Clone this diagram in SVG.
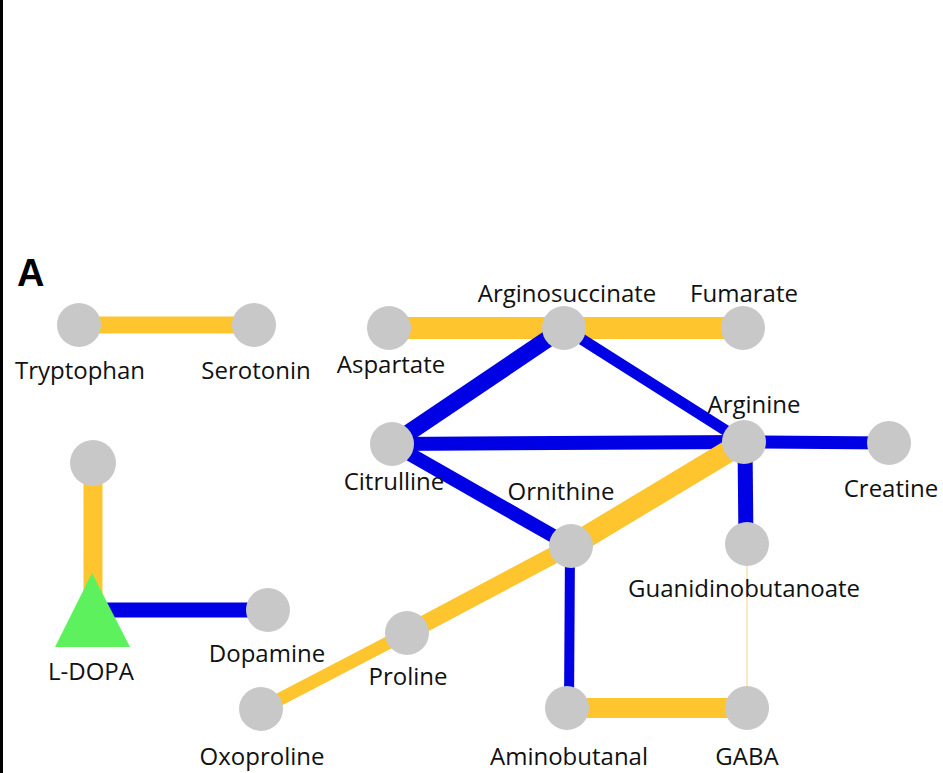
<svg xmlns="http://www.w3.org/2000/svg" width="943" height="773" viewBox="0 0 943 773">
<style>
.o{stroke:#FEC52E;fill:none;stroke-linecap:butt}
.b{stroke:#0000E5;fill:none;stroke-linecap:butt}
.n{fill:#C8C8C8}
.t{font-family:"Open Sans","Noto Sans",sans-serif;font-size:24px;fill:#111111;text-anchor:middle}
</style>
<rect x="0" y="0" width="943" height="773" fill="#FFFFFF"/>
<rect x="0" y="0" width="3" height="773" fill="#000000"/>
<text x="17" y="286" font-family="Liberation Sans, Arial, sans-serif" font-size="38" font-weight="bold" fill="#000">A</text>
<g id="connectors">
<line class="o" x1="79" y1="325" x2="254" y2="325" stroke-width="17"/>
<line class="o" x1="389" y1="328" x2="564" y2="328" stroke-width="22"/>
<line class="o" x1="564" y1="328" x2="743" y2="328" stroke-width="22"/>
<line class="b" x1="564" y1="328" x2="392" y2="444" stroke-width="17"/>
<line class="b" x1="564" y1="328" x2="744" y2="442" stroke-width="11"/>
<line class="b" x1="392" y1="444" x2="744" y2="442" stroke-width="14"/>
<line class="b" x1="392" y1="444" x2="571" y2="546" stroke-width="14"/>
<line class="b" x1="744" y1="442" x2="889" y2="443" stroke-width="13"/>
<line class="b" x1="745" y1="442" x2="746" y2="544" stroke-width="15"/>
<line class="b" x1="570" y1="546" x2="569" y2="708" stroke-width="10"/>
<line x1="747" y1="544" x2="747" y2="708" stroke="#F3E3B0" stroke-width="1.5"/>
<line class="o" x1="744" y1="442" x2="571" y2="546" stroke-width="22"/>
<line class="o" x1="571" y1="546" x2="407" y2="633" stroke-width="17"/>
<line class="o" x1="407" y1="633" x2="261" y2="709" stroke-width="13"/>
<line class="o" x1="567" y1="708" x2="747" y2="708" stroke-width="20"/>
<line class="o" x1="93" y1="463" x2="93" y2="600" stroke-width="19"/>
<line class="b" x1="92" y1="610" x2="268" y2="610" stroke-width="15"/>
</g>
<g id="n-tryptophan"><circle class="n" cx="79" cy="325" r="22"/><text class="t" x="80" y="379">Tryptophan</text></g>
<g id="n-serotonin"><circle class="n" cx="254" cy="325" r="22"/><text class="t" x="256" y="379">Serotonin</text></g>
<g id="n-aspartate"><circle class="n" cx="389" cy="328" r="22"/><text class="t" x="391" y="373">Aspartate</text></g>
<g id="n-arginosuccinate"><circle class="n" cx="564" cy="328" r="22"/><text class="t" x="567" y="302">Arginosuccinate</text></g>
<g id="n-fumarate"><circle class="n" cx="743" cy="328" r="22"/><text class="t" x="744" y="302">Fumarate</text></g>
<g id="n-citrulline"><circle class="n" cx="392" cy="444" r="22"/><text class="t" x="394" y="490">Citrulline</text></g>
<g id="n-arginine"><circle class="n" cx="744" cy="442" r="22"/><text class="t" x="754" y="413">Arginine</text></g>
<g id="n-creatine"><circle class="n" cx="889" cy="443" r="22"/><text class="t" x="891" y="497">Creatine</text></g>
<g id="n-ornithine"><circle class="n" cx="571" cy="546" r="22"/><text class="t" x="561" y="500">Ornithine</text></g>
<g id="n-guanidinobutanoate"><circle class="n" cx="747" cy="544" r="22"/><text class="t" x="744" y="597">Guanidinobutanoate</text></g>
<g id="n-top"><circle class="n" cx="93" cy="463" r="23"/></g>
<g id="n-ldopa"><polygon points="92,573 130,647 55,647" fill="#5DF25D"/><text class="t" x="91" y="680">L-DOPA</text></g>
<g id="n-dopamine"><circle class="n" cx="268" cy="610" r="22"/><text class="t" x="267" y="662">Dopamine</text></g>
<g id="n-proline"><circle class="n" cx="407" cy="633" r="22"/><text class="t" x="408" y="685">Proline</text></g>
<g id="n-oxoproline"><circle class="n" cx="261" cy="709" r="22"/><text class="t" x="262" y="765">Oxoproline</text></g>
<g id="n-aminobutanal"><circle class="n" cx="567" cy="708" r="22"/><text class="t" x="569" y="765">Aminobutanal</text></g>
<g id="n-gaba"><circle class="n" cx="747" cy="708" r="22"/><text class="t" x="747" y="765">GABA</text></g>
</svg>
